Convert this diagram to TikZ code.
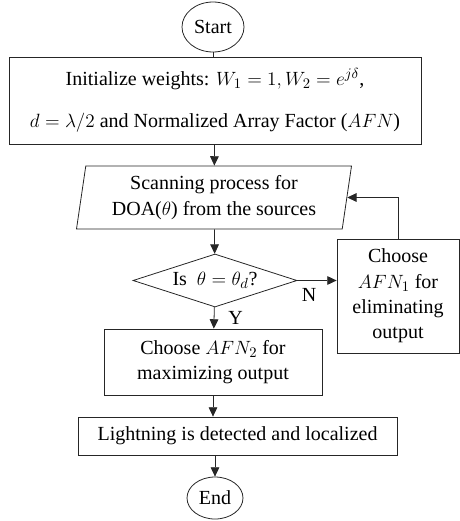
\documentclass[tikz,border=0pt]{standalone}
\usepackage{fontspec}
\setmainfont{Liberation Serif}
\usetikzlibrary{shapes.geometric,arrows.meta}

\tikzset{
  box/.style={draw=black!85, line width=0.6pt, rectangle, align=center, inner sep=0pt},
  term/.style={draw=black!85, line width=0.6pt, ellipse, inner sep=0pt},
  io/.style={draw=black!85, line width=0.6pt, trapezium, trapezium left angle=78,
             trapezium right angle=102, trapezium stretches body=true,
             align=center, inner sep=0pt},
  decide/.style={draw=black!85, line width=0.6pt, diamond, aspect=3.1, inner sep=0pt},
  flow/.style={draw=black!85, line width=0.6pt, -{Triangle[length=7pt,width=6.5pt]}},
}

\begin{document}
\begin{tikzpicture}[x=0.75pt, y=-0.75pt, font=\fontsize{15}{19}\selectfont]
  \useasboundingbox (0,0) rectangle (460,521);

  \node (start) [term, minimum width=46.5pt, minimum height=37.5pt] at (213,27) {Start};
  \node (init)  [box, minimum width=309pt, minimum height=65.25pt] at (215,100.5)
                {Initialize weights: $W_1 = 1, W_2 = e^{j\delta}$,\\[13pt]
                 $d = \lambda/2$ and Normalized Array Factor ($AFN$)};
  \node (scan)  [io, minimum width=206.25pt, minimum height=47.25pt] at (214,197.5)
                {Scanning process for\\ DOA($\theta$) from the sources};
  \node (check) [decide, minimum width=123pt, minimum height=39.75pt] at (215,280.5)
                {Is~ $\theta = \theta_d$?};
  \node (elim)  [box, minimum width=91.5pt, minimum height=85.5pt] at (398,296)
                {Choose\\ $AFN_1$ for\\ eliminating\\ output};
  \node (maxi)  [box, minimum width=163.5pt, minimum height=49.5pt] at (213,362)
                {Choose $AFN_2$ for\\ maximizing output};
  \node (found) [box, minimum width=239.25pt, minimum height=28.5pt] at (237.5,436)
                {Lightning is detected and localized};
  \node (end)   [term, minimum width=42pt, minimum height=31.5pt] at (215,498) {End};

  \draw[draw=black!85, line width=0.6pt] (start) -- (start |- init.north);
  \draw[flow] (init) -- (scan);
  \draw[flow] (scan) -- (check);
  \draw[flow] (check.east) -- (check.east -| elim.west)
              node[pos=0.3, below, yshift=-2pt] (no) {N};
  \draw[flow] (elim.north) |- (scan.east);
  \draw[flow] (check) -- (maxi) node[midway, right, xshift=7pt, yshift=0pt] (yes) {Y};
  \draw[flow] (maxi.south) -- (maxi.south |- found.north);
  \draw[flow] (end.north |- found.south) -- (end);
\end{tikzpicture}
\end{document}
